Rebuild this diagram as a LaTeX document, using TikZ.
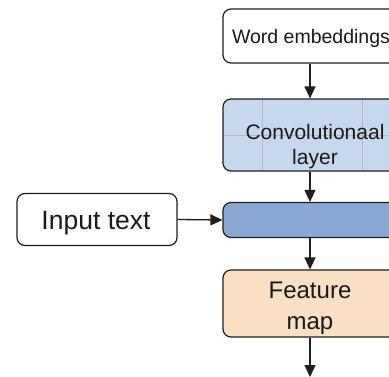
\documentclass[tikz,border=0pt]{standalone}
\usepackage{fontspec}
\setmainfont{Liberation Sans}
\usetikzlibrary{arrows.meta}
\definecolor{convblue}{RGB}{198,216,237}
\definecolor{barblue}{RGB}{139,168,210}
\definecolor{featorange}{RGB}{251,223,195}
\definecolor{edge}{RGB}{30,30,30}
\tikzset{
  box/.style={draw=edge, line width=1.2pt, rounded corners=8pt, inner sep=0pt, anchor=center},
  lbl/.style={inner sep=0pt, align=center, text=black!90},
  arr/.style={-{Triangle[length=12pt,width=11pt]}, line width=1.3pt, draw=edge},
  gridline/.style={draw=gray!55, line width=0.5pt}
}
\begin{document}
\begin{tikzpicture}[x=1pt,y=-1pt]
\clip (0,0) rectangle (389,376);
\fill[white] (0,0) rectangle (389,376);
\node[box, fill=white, minimum width=174pt, minimum height=54pt] (we) at (310,36) {};
\node[lbl, font=\fontsize{19.5}{22}\selectfont] (wetxt) at (311,38) {Word embeddings};
\node[box, fill=convblue, minimum width=174pt, minimum height=72pt] (conv) at (310,135) {};
\draw[gridline] (262,100) -- (262,170);
\draw[gridline] (362,100) -- (362,170);
\draw[gridline] (224,135) -- (396,135);
\node[lbl, font=\fontsize{21}{25}\selectfont] (convtxt) at (315,147) {Convolutionaal\\layer};
\node[box, fill=barblue, minimum width=174pt, minimum height=35pt] (bar) at (310,220) {};
\node[box, fill=white, minimum width=160pt, minimum height=52pt] (in) at (97,219.5) {};
\node[lbl, font=\fontsize{26.5}{30}\selectfont] (intxt) at (96,223) {Input text};
\node[box, fill=featorange, minimum width=174pt, minimum height=67pt] (feat) at (310,303.5) {};
\node[lbl, font=\fontsize{24}{31}\selectfont] (feattxt) at (310,308) {Feature\\map};
\coordinate (out) at (310,377);
\draw[arr] (we.south) -- (conv.north);
\draw[arr] (conv.south) -- (bar.north);
\draw[arr] (in.east) -- (bar.west);
\draw[arr] (bar.south) -- (feat.north);
\draw[arr] (feat.south) -- (out);
\end{tikzpicture}
\end{document}
